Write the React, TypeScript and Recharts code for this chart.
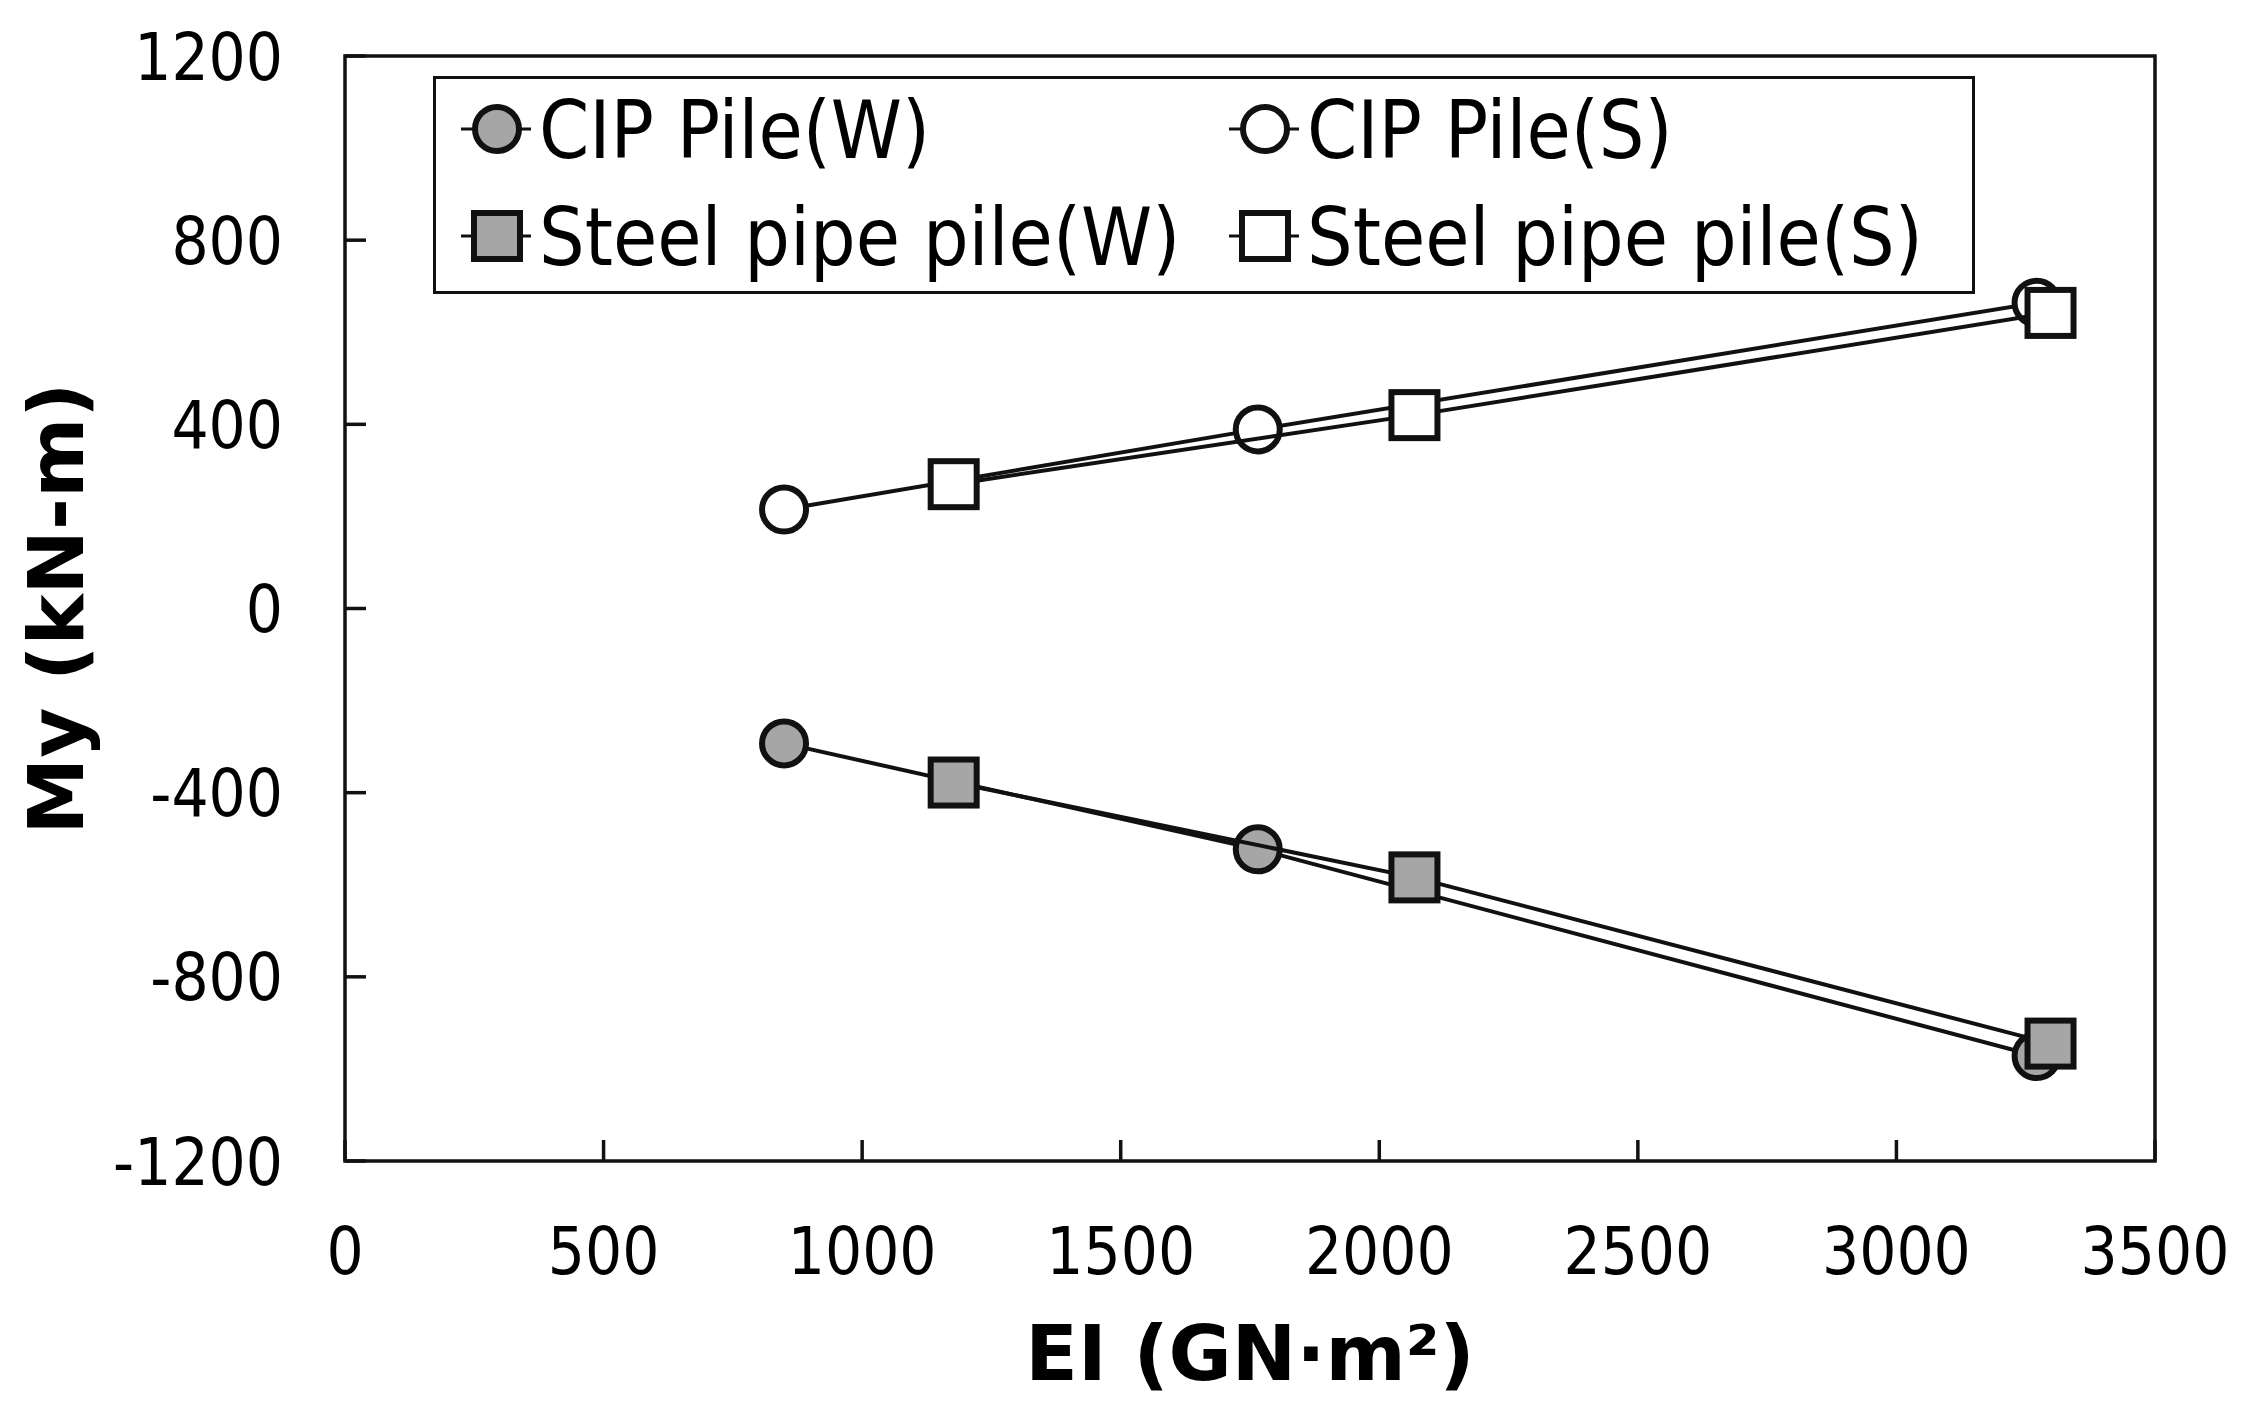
import React from 'react';
import { ScatterChart, Scatter, XAxis, YAxis, ReferenceArea } from 'recharts';

// ---- data ----
const xTicks = [0, 500, 1000, 1500, 2000, 2500, 3000, 3500];
const yTicks = [-1200, -800, -400, 0, 400, 800, 1200];

const cipEI = [849, 1765, 3271];
const cipW = [-293, -523, -972];
const cipS = [215, 389, 664];

const steelEI = [1177, 2068, 3298];
const steelW = [-378, -584, -945];
const steelS = [270, 420, 642];

const seriesNames = ['CIP Pile(W)', 'CIP Pile(S)', 'Steel pipe pile(W)', 'Steel pipe pile(S)'];

const toPoints = (xs: number[], ys: number[]) => xs.map((x, i) => ({ x, y: ys[i] }));

const series = [
  { name: seriesNames[0], data: toPoints(cipEI, cipW), shape: 'circle', fill: '#a6a6a6' },
  { name: seriesNames[1], data: toPoints(cipEI, cipS), shape: 'circle', fill: '#ffffff' },
  { name: seriesNames[2], data: toPoints(steelEI, steelW), shape: 'square', fill: '#a6a6a6' },
  { name: seriesNames[3], data: toPoints(steelEI, steelS), shape: 'square', fill: '#ffffff' },
];

// ---- style ----
const W = 2240;
const H = 1410;
const REG = "'DejaVu Sans Condensed', 'DejaVu Sans', sans-serif";
const BOLD = "'DejaVu Sans', sans-serif";
const TICK_FS = 65;
const LEG_FS = 80;
const TITLE_FS = 77;
const INK = '#111';
const MARK_SW = 6;
const LINE_SW = 4;

const MarkerGlyph = ({ cx, cy, shape, fill }: any) => {
  if (cx == null || cy == null) return null;
  if (shape === 'circle') {
    return <circle cx={cx} cy={cy} r={22} fill={fill} stroke={INK} strokeWidth={MARK_SW} />;
  }
  return <rect x={cx - 23} y={cy - 23} width={46} height={46} fill={fill} stroke={INK} strokeWidth={MARK_SW} />;
};

const YTick = (props: any) => {
  const { x, y, payload } = props;
  return (
    <g>
      <line x1={x} x2={x + 21} y1={y} y2={y} stroke={INK} strokeWidth={3.5} />
      <text x={x - 62} y={y + TICK_FS * 0.364} textAnchor="end" fontSize={TICK_FS} fontFamily={REG} fill="#000">
        {payload.value}
      </text>
    </g>
  );
};

const XTick = (props: any) => {
  const { x, y, payload } = props;
  return (
    <g>
      <line x1={x} x2={x} y1={y} y2={y - 21} stroke={INK} strokeWidth={3.5} />
      <text x={x} y={y + 89 + TICK_FS * 0.364} textAnchor="middle" fontSize={TICK_FS} fontFamily={REG} fill="#000">
        {payload.value}
      </text>
    </g>
  );
};

const XTitle = (props: any) => {
  const vb = props.viewBox || {};
  return (
    <text x={vb.x + vb.width / 2} y={vb.y + 219} textAnchor="middle" fontSize={TITLE_FS} fontFamily={BOLD} fontWeight="bold" fill="#000">
      EI (GN·m²)
    </text>
  );
};

const YTitle = (props: any) => {
  const vb = props.viewBox || {};
  const cx = vb.x + vb.width - 262;
  const cy = vb.y + vb.height / 2;
  return (
    <text x={cx} y={cy} transform={`rotate(-90 ${cx} ${cy})`} textAnchor="middle" fontSize={TITLE_FS} fontFamily={BOLD} fontWeight="bold" fill="#000">
      My (kN-m)
    </text>
  );
};

const LegendBox = () => {
  const colX = [64, 832];
  const rowY = [53, 160];
  return (
    <svg width={1542} height={218} style={{ display: 'block', overflow: 'visible' }}>
      <rect x={1.5} y={1.5} width={1539} height={215} fill="#fff" stroke={INK} strokeWidth={3} />
      {series.map((s, i) => {
        const mx = colX[i % 2];
        const my = rowY[Math.floor(i / 2)];
        return (
          <g key={s.name}>
            <line x1={mx - 36} x2={mx + 34} y1={my} y2={my} stroke={INK} strokeWidth={3} />
            <MarkerGlyph cx={mx} cy={my} shape={s.shape} fill={s.fill} />
            <text x={mx + 42} y={my + LEG_FS * 0.364} fontSize={LEG_FS} fontFamily={REG} fill="#000">
              {s.name}
            </text>
          </g>
        );
      })}
    </svg>
  );
};

export default function App() {
  return (
    <div style={{ position: 'relative', width: W, height: H, background: '#fff' }}>
      <ScatterChart width={W} height={H} margin={{ top: 48, right: 93, bottom: 157, left: 237 }}>
        <XAxis
          type="number"
          dataKey="x"
          domain={[0, 3500]}
          ticks={xTicks}
          height={100}
          axisLine={false}
          tickLine={false}
          tickSize={0}
          tickMargin={0}
          tick={<XTick />}
          interval={0}
          label={<XTitle />}
        />
        <YAxis
          type="number"
          dataKey="y"
          domain={[-1200, 1200]}
          ticks={yTicks}
          width={100}
          axisLine={false}
          tickLine={false}
          tickSize={0}
          tickMargin={0}
          tick={<YTick />}
          interval={0}
          label={<YTitle />}
        />
        <ReferenceArea x1={0} x2={3500} y1={-1200} y2={1200} fill="none" fillOpacity={0} stroke={INK} strokeWidth={3.5} />
        {series.map((s) => (
          <Scatter
            key={s.name}
            name={s.name}
            data={s.data}
            line={{ stroke: INK, strokeWidth: LINE_SW }}
            shape={(p: any) => <MarkerGlyph {...p} shape={s.shape} fill={s.fill} />}
            isAnimationActive={false}
          />
        ))}
      </ScatterChart>
      <div style={{ position: 'absolute', left: 425, top: 68, width: 1542, height: 218 }}>
        <LegendBox />
      </div>
    </div>
  );
}
